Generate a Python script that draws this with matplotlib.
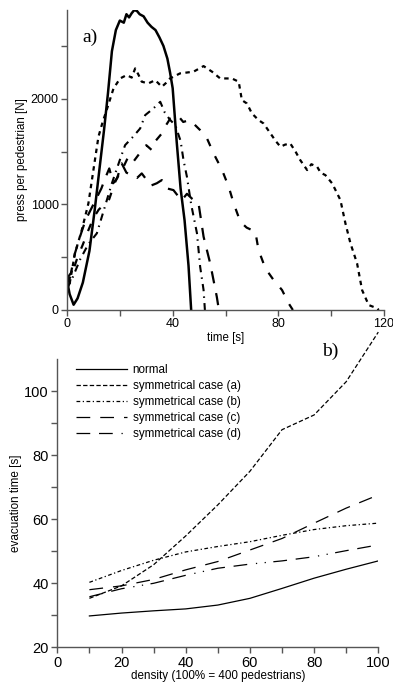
import matplotlib
matplotlib.use("Agg")
import matplotlib.pyplot as plt

plt.rcParams['font.family'] = ['Liberation Sans', 'DejaVu Sans']

# ---- panel a) : pressure per pedestrian vs time ----
t_normal = [0, 1.0, 2.5, 4.0, 6.0, 8.5, 10.5, 12.5, 14.0, 15.5, 17.0, 18.5, 20.0, 21.5, 22.5,
            23.5, 24.5, 25.5, 26.5, 27.5, 29.0, 30.5, 32.0, 33.5, 35.0, 36.5, 38.0, 39.0,
            40.0, 41.5, 43.0, 44.5, 46.0, 47.0]
p_normal = [280, 150, 50, 110, 260, 560, 950, 1380, 1700, 2050, 2450, 2650, 2740, 2720, 2800,
            2770, 2810, 2840, 2830, 2800, 2780, 2720, 2680, 2650, 2580, 2500, 2380, 2250,
            2100, 1600, 1150, 850, 420, 0]

t_short = [0, 1, 3, 5.6, 8.1, 10, 11.9, 13.5, 15, 17.6, 20.1, 22.6, 24.5, 25.8, 27, 28.3, 30.8,
           33.4, 35.9, 37.5, 39, 42.8, 47.9, 51.7, 54.9, 58, 62.4, 65, 66.2, 68.1, 70, 72.5,
           74.4, 77, 79, 80.8, 82.5, 84.5, 86.5, 88.3, 90.9, 92.5, 94.7, 96, 97.8, 100.4,
           103.5, 105.4, 107.3, 109.8, 111.7, 114.2, 117.4, 118]
p_short = [330, 250, 536, 757, 1009, 1325, 1640, 1780, 1892, 2097, 2192, 2224, 2200, 2287, 2230,
           2161, 2145, 2176, 2113, 2150, 2192, 2240, 2256, 2309, 2256, 2192, 2192, 2161, 1987,
           1955, 1861, 1798, 1766, 1672, 1600, 1545, 1565, 1577, 1500, 1419, 1325, 1380, 1356,
           1300, 1277, 1198, 1041, 820, 631, 442, 189, 47, 16, 0]

t_dashdot = [0, 2, 5, 8, 11.3, 14, 17, 20, 22, 25, 27.7, 29.6, 32.7, 35.3, 37, 39, 41, 43, 44.1,
             45.4, 47, 49.2, 50.4, 51.7, 52.2]
p_dashdot = [200, 300, 480, 620, 726, 950, 1200, 1420, 1561, 1640, 1719, 1845, 1908, 1971, 1870,
             1800, 1750, 1600, 1419, 1261, 1000, 726, 410, 189, 0]

t_middash = [0, 2, 4, 6, 8, 10, 12, 13.8, 16, 18, 20, 21.4, 23.2, 25, 28, 30, 32.1, 33.5, 35.9,
             37.5, 39.1, 42, 44, 46.6, 48.5, 50.4, 53, 55.5, 58.7, 61.2, 63.1, 65.6, 68, 71.3,
             72.5, 75.1, 78.2, 81.4, 83.9, 85.5]
p_middash = [250, 350, 500, 620, 750, 870, 950, 993, 1050, 1200, 1300, 1356, 1451, 1400, 1500,
             1560, 1514, 1600, 1671, 1750, 1813, 1840, 1780, 1800, 1750, 1703, 1624, 1482, 1325,
             1167, 1009, 836, 780, 741, 568, 394, 284, 189, 63, 0]

t_longdash = [0, 1.5, 3, 5, 7, 9, 11, 13, 14.5, 16, 17.5, 19, 20.7, 22.5, 24.5, 26.5, 28.3, 30.2,
              32, 34, 35.9, 38, 40.3, 42, 43.5, 45.4, 47.5, 49.8, 51.7, 54.2, 56.7, 57.5]
p_longdash = [300, 350, 536, 700, 850, 950, 1050, 1150, 1250, 1340, 1200, 1250, 1388, 1300, 1277,
              1250, 1293, 1230, 1180, 1200, 1230, 1150, 1135, 1080, 1041, 1100, 1050, 1009, 694,
              442, 126, 0]

# ---- panel b) : evacuation time vs density ----
density = [10, 20, 30, 40, 50, 60, 70, 80, 90, 100]
evac_normal = [29.8, 30.7, 31.4, 32.0, 33.2, 35.3, 38.4, 41.6, 44.4, 47.0]
evac_a = [35.3, 39.2, 45.8, 54.8, 64.5, 75.0, 88.0, 92.6, 103.0, 118.5]
evac_b = [40.3, 44.0, 47.2, 49.8, 51.5, 53.0, 55.0, 56.8, 58.0, 58.8]
evac_c = [38.0, 39.2, 41.2, 44.2, 46.8, 50.4, 54.0, 58.8, 63.5, 67.6]
evac_d = [35.8, 38.3, 40.0, 42.5, 44.7, 46.0, 47.0, 48.3, 50.2, 52.0]
legend_labels = ["normal", "symmetrical case (a)", "symmetrical case (b)",
                 "symmetrical case (c)", "symmetrical case (d)"]

W, H = 393, 688
fig = plt.figure(figsize=(W / 100, H / 100), dpi=100)
spine_col = "#555555"


def style_axes(ax):
    for s in ["top", "right"]:
        ax.spines[s].set_visible(False)
    for s in ["left", "bottom"]:
        ax.spines[s].set_color(spine_col)
        ax.spines[s].set_linewidth(1.0)
    ax.tick_params(which="both", direction="out", color=spine_col, width=1.0, length=4)


# top panel
ax1 = fig.add_axes([67 / W, (H - 310) / H, 317 / W, 300 / H])
style_axes(ax1)
ax1.plot(t_normal, p_normal, color="black", lw=1.8, ls="-")
ax1.plot(t_short, p_short, color="black", lw=1.6, ls=(0, (2, 2)))
ax1.plot(t_dashdot, p_dashdot, color="black", lw=1.5, ls=(0, (3.5, 2.5, 0.7, 2.5)))
ax1.plot(t_middash, p_middash, color="black", lw=1.6, ls=(0, (3.5, 5)))
ax1.plot(t_longdash, p_longdash, color="black", lw=1.6, ls=(0, (5.5, 4.5)))
ax1.set_xlim(0, 120)
ax1.set_ylim(0, 2840)
ax1.set_xticks([0, 40, 80, 120])
ax1.set_xticks([20, 60, 100], minor=True)
ax1.set_yticks([0, 1000, 2000])
ax1.set_yticks([500, 1500, 2500], minor=True)
ax1.tick_params(labelsize=9, pad=2)
ax1.set_xlabel("time [s]", fontsize=8.3, labelpad=1)
ax1.set_ylabel("press per pedestrian [N]", fontsize=8.3, labelpad=2)
ax1.text(82 / W, 1 - 37 / H, "a)", transform=fig.transFigure, fontsize=14,
         family="Liberation Serif", va="center", ha="left")

# bottom panel
ax2 = fig.add_axes([57.3 / W, (H - 647.3) / H, 321 / W, 288 / H])
style_axes(ax2)
ax2.plot(density, evac_normal, color="black", lw=0.9, ls="-", label=legend_labels[0])
ax2.plot(density, evac_a, color="black", lw=0.9, ls=(0, (3.5, 1.8)), label=legend_labels[1],
         clip_on=False)
ax2.plot(density, evac_b, color="black", lw=0.9, ls=(0, (3, 2, 1, 2)), label=legend_labels[2])
ax2.plot(density, evac_c, color="black", lw=0.9, ls=(0, (11, 8)), label=legend_labels[3])
ax2.plot(density, evac_d, color="black", lw=0.9, ls=(0, (11, 7, 11, 7, 1, 6, 1, 6)),
         label=legend_labels[4])
ax2.set_xlim(0, 100)
ax2.set_ylim(20, 110)
ax2.set_xticks([0, 20, 40, 60, 80, 100])
ax2.set_xticks([10, 30, 50, 70, 90], minor=True)
ax2.set_yticks([20, 40, 60, 80, 100])
ax2.set_yticks([30, 50, 70, 90], minor=True)
ax2.tick_params(labelsize=10.5, pad=2)
ax2.set_xlabel("density (100% = 400 pedestrians)", fontsize=8.4, labelpad=0)
ax2.set_ylabel("evacuation time [s]", fontsize=8.4, labelpad=2)
ax2.text(322 / W, 1 - 351 / H, "b)", transform=fig.transFigure, fontsize=14,
         family="Liberation Serif", va="center", ha="left")
ax2.legend(loc="upper left", bbox_to_anchor=(76 / W, 1 - 364 / H),
           bbox_transform=fig.transFigure, frameon=False, fontsize=8.4,
           handlelength=4.4, handletextpad=0.45, labelspacing=0.35, borderpad=0,
           borderaxespad=0)

fig.savefig("out.png", dpi=100)
